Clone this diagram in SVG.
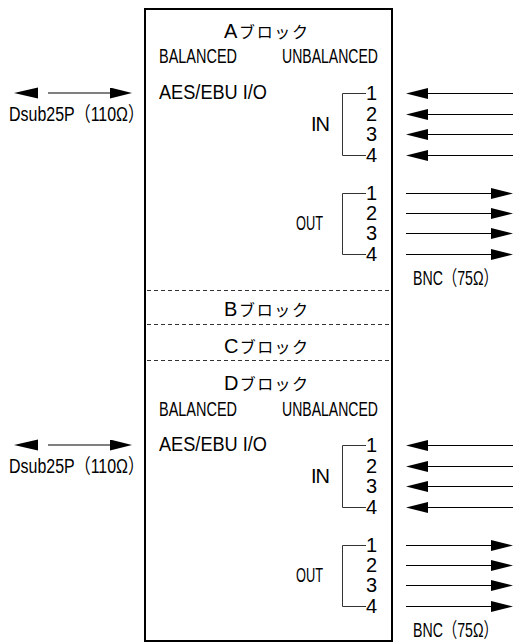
<svg xmlns="http://www.w3.org/2000/svg" width="513" height="644" viewBox="0 0 513 644">
<defs>
<style>
.t{font-family:"Liberation Sans","Noto Sans CJK JP",sans-serif;font-size:20px;fill:#000}
.k{font-family:"Noto Sans CJK JP",sans-serif;font-size:16px}
.ln{stroke:#000;stroke-width:1;fill:none}
.br{stroke:#333;stroke-width:1;fill:none}
.dash{stroke:#333;stroke-width:1;stroke-dasharray:4 3}
.head{fill:#000}
</style>
<marker id="ah" viewBox="0 0 22 11" markerWidth="22" markerHeight="11" refX="0" refY="5.5" orient="auto" markerUnits="userSpaceOnUse">
<path d="M0,0 L22,5.5 L0,11 z" fill="#000"/>
</marker>
</defs>
<rect width="513" height="644" fill="#fff"/>

<g id="unit">
<rect x="145" y="9" width="247" height="632" fill="none" stroke="#000" stroke-width="2"/>
<line class="dash" x1="147" y1="290.5" x2="391" y2="290.5"/>
<line class="dash" x1="147" y1="324.5" x2="391" y2="324.5"/>
<line class="dash" x1="147" y1="360.5" x2="391" y2="360.5"/>
</g>

<g id="block-a">
<text class="t" x="224" y="38" textLength="84" lengthAdjust="spacing">A<tspan class="k">ブロック</tspan></text>
<text class="t" x="159" y="63" textLength="78" lengthAdjust="spacingAndGlyphs">BALANCED</text>
<text class="t" x="282" y="63" textLength="96" lengthAdjust="spacingAndGlyphs">UNBALANCED</text>
<text class="t" x="159" y="99" textLength="108" lengthAdjust="spacingAndGlyphs">AES/EBU I/O</text>
<text class="t" x="311" y="131" textLength="19" lengthAdjust="spacing">IN</text>
<text class="t" x="296" y="230" textLength="27" lengthAdjust="spacingAndGlyphs">OUT</text>
<text class="t" x="366" y="100">1</text>
<text class="t" x="366" y="121">2</text>
<text class="t" x="366" y="141">3</text>
<text class="t" x="366" y="162">4</text>
<text class="t" x="366" y="200">1</text>
<text class="t" x="366" y="220">2</text>
<text class="t" x="366" y="240">3</text>
<text class="t" x="366" y="261">4</text>
</g>

<g id="block-b">
<text class="t" x="224" y="316" textLength="84" lengthAdjust="spacing">B<tspan class="k">ブロック</tspan></text>
</g>

<g id="block-c">
<text class="t" x="224" y="353" textLength="84" lengthAdjust="spacing">C<tspan class="k">ブロック</tspan></text>
</g>

<g id="block-d">
<text class="t" x="224" y="390" textLength="84" lengthAdjust="spacing">D<tspan class="k">ブロック</tspan></text>
<text class="t" x="159" y="416" textLength="78" lengthAdjust="spacingAndGlyphs">BALANCED</text>
<text class="t" x="282" y="416" textLength="96" lengthAdjust="spacingAndGlyphs">UNBALANCED</text>
<text class="t" x="159" y="451" textLength="108" lengthAdjust="spacingAndGlyphs">AES/EBU I/O</text>
<text class="t" x="311" y="483" textLength="19" lengthAdjust="spacing">IN</text>
<text class="t" x="296" y="582" textLength="27" lengthAdjust="spacingAndGlyphs">OUT</text>
<text class="t" x="366" y="452">1</text>
<text class="t" x="366" y="473">2</text>
<text class="t" x="366" y="493">3</text>
<text class="t" x="366" y="514">4</text>
<text class="t" x="366" y="552">1</text>
<text class="t" x="366" y="572">2</text>
<text class="t" x="366" y="592">3</text>
<text class="t" x="366" y="613">4</text>
</g>

<g id="dsub-a">
<text class="t" x="9" y="121" textLength="135" lengthAdjust="spacingAndGlyphs">Dsub25P（110Ω）</text>
</g>
<g id="dsub-d">
<text class="t" x="9" y="473" textLength="135" lengthAdjust="spacingAndGlyphs">Dsub25P（110Ω）</text>
</g>
<g id="bnc-a">
<text class="t" transform="translate(413,285) scale(0.71,1)">BNC（75Ω）</text>
</g>
<g id="bnc-d">
<text class="t" transform="translate(413,637) scale(0.71,1)">BNC（75Ω）</text>
</g>

<g id="connectors">
<path class="br" d="M366,93.5 H342.5 V155.5 H366"/>
<path class="br" d="M366,193.5 H342.5 V254.5 H366"/>
<path class="br" d="M366,445.5 H342.5 V507.5 H366"/>
<path class="br" d="M366,545.5 H342.5 V606.5 H366"/>
<polygon class="head" points="38,87.5 14,93 38,98.5"/>
<line class="ln" x1="48" y1="93" x2="110" y2="93" marker-end="url(#ah)"/>
<polygon class="head" points="38,439.5 14,445 38,450.5"/>
<line class="ln" x1="48" y1="445" x2="110" y2="445" marker-end="url(#ah)"/>
<line class="ln" x1="513" y1="93.5" x2="428" y2="93.5" marker-end="url(#ah)"/>
<line class="ln" x1="513" y1="114.5" x2="428" y2="114.5" marker-end="url(#ah)"/>
<line class="ln" x1="513" y1="134.5" x2="428" y2="134.5" marker-end="url(#ah)"/>
<line class="ln" x1="513" y1="155.5" x2="428" y2="155.5" marker-end="url(#ah)"/>
<line class="ln" x1="406" y1="193.5" x2="491" y2="193.5" marker-end="url(#ah)"/>
<line class="ln" x1="406" y1="213.5" x2="491" y2="213.5" marker-end="url(#ah)"/>
<line class="ln" x1="406" y1="233.5" x2="491" y2="233.5" marker-end="url(#ah)"/>
<line class="ln" x1="406" y1="254.5" x2="491" y2="254.5" marker-end="url(#ah)"/>
<line class="ln" x1="513" y1="445.5" x2="428" y2="445.5" marker-end="url(#ah)"/>
<line class="ln" x1="513" y1="466.5" x2="428" y2="466.5" marker-end="url(#ah)"/>
<line class="ln" x1="513" y1="486.5" x2="428" y2="486.5" marker-end="url(#ah)"/>
<line class="ln" x1="513" y1="507.5" x2="428" y2="507.5" marker-end="url(#ah)"/>
<line class="ln" x1="406" y1="545.5" x2="491" y2="545.5" marker-end="url(#ah)"/>
<line class="ln" x1="406" y1="565.5" x2="491" y2="565.5" marker-end="url(#ah)"/>
<line class="ln" x1="406" y1="585.5" x2="491" y2="585.5" marker-end="url(#ah)"/>
<line class="ln" x1="406" y1="606.5" x2="491" y2="606.5" marker-end="url(#ah)"/>
</g>
</svg>
